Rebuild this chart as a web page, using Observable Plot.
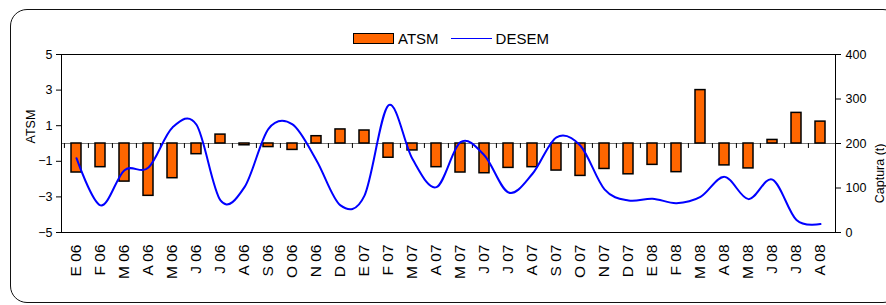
<!DOCTYPE html>
<html>
<head>
<meta charset="utf-8">
<script src="https://cdn.jsdelivr.net/npm/d3@7"></script>
<script src="https://cdn.jsdelivr.net/npm/@observablehq/plot@0.6"></script>
<style>
  html, body { margin: 0; padding: 0; background: #fff; overflow: hidden; }
  #wrap { position: relative; width: 886px; height: 305px; overflow: hidden; font-family: "Liberation Sans", Arial, sans-serif; }
  #border { position: absolute; left: 10px; top: 9px; width: 890px; height: 294px; border: 1.5px solid #111; border-radius: 17px; box-sizing: border-box; }
  #legend { position: absolute; top: 29px; left: 353px; height: 18px; display: flex; align-items: center; font-size: 15px; color: #000; }
  .sw-bar { width: 39px; height: 9px; background: #FF6600; border: 1.5px solid #000; margin-right: 4px; }
  .sw-line { width: 41px; height: 0; border-top: 1.5px solid #0000FF; margin-left: 12px; margin-right: 4px; }
  #chart { position: absolute; left: 0; top: 0; }
</style>
</head>
<body>
<div id="wrap">
  <div id="border"></div>
  <div id="chart"></div>
  <div id="legend"><div class="sw-bar"></div><span>ATSM</span><div class="sw-line"></div><span>DESEM</span></div>
</div>
<script>
const months = ["E 06","F 06","M 06","A 06","M 06","J 06","J 06","A 06","S 06","O 06","N 06","D 06",
                "E 07","F 07","M 07","A 07","M 07","J 07","J 07","A 07","S 07","O 07","N 07","D 07",
                "E 08","F 08","M 08","A 08","M 08","J 08","J 08","A 08"];
const atsm = [-1.63,-1.33,-2.14,-2.94,-1.95,-0.6,0.5,-0.1,-0.2,-0.36,0.41,0.79,
              0.73,-0.8,-0.39,-1.33,-1.63,-1.67,-1.37,-1.33,-1.52,-1.82,-1.43,-1.73,
              -1.2,-1.61,3.0,-1.23,-1.4,0.2,1.72,1.23];
const desem = [167,61,140,146,236,242,72,102,233,243,162,61,
               83,286,165,102,203,173,90,132,214,195,97,72,
               76,66,80,125,75,119,28,19];
const leftTicks = [-5,-3,-1,1,3,5];
const rightTicks = [0,100,200,300,400];

const W = 886, H = 305, ML = 61, MR = 51, MT = 54, MB = 73;
const step = (W - ML - MR) / months.length;
const toLeft = v => v / 40 - 5;   // right axis (0..400) mapped onto left axis (-5..5)

const data = months.map((m, i) => ({i, m, atsm: atsm[i], desem: desem[i]}));
const font = "Liberation Sans, Arial, sans-serif";

const chart = Plot.plot({
  width: W, height: H,
  marginLeft: ML, marginRight: MR, marginTop: MT, marginBottom: MB,
  style: {fontFamily: font, fontSize: "12.5px", color: "#000", background: "transparent"},
  x: {type: "band", domain: data.map(d => d.i), padding: 0},
  y: {domain: [-5, 5]},
  marks: [
    Plot.ruleY([0], {stroke: "#777", strokeWidth: 1}),
    Plot.barY(data, {x: "i", y: "atsm", fill: "#FF6600", stroke: "#000", strokeWidth: 1.5, insetLeft: 7, insetRight: 7}),
    Plot.ruleX(data, {x: "i", y1: 0, y2: -0.28, dx: -step / 2, stroke: "#000"}),
    Plot.line(data, {x: "i", y: d => toLeft(d.desem), stroke: "#0000FF", strokeWidth: 2, curve: "cardinal"}),
    Plot.frame({stroke: "#000", strokeWidth: 1}),
    Plot.axisY(leftTicks, {anchor: "left", tickSize: 5, tickPadding: 4, label: null, fontSize: 12.5}),
    Plot.axisY(rightTicks.map(toLeft), {anchor: "right", tickSize: 5, tickPadding: 5, tickFormat: d => Math.round((d + 5) * 40), label: null, fontSize: 12.5}),
    Plot.axisX({anchor: "bottom", tickSize: 0, tickPadding: 12, tickRotate: -90, tickFormat: i => months[i], label: null, fontSize: 15.5}),
    Plot.text(["ATSM"], {frameAnchor: "left", dx: -31, rotate: -90, fontSize: 12.5}),
    Plot.text(["Captura (t)"], {frameAnchor: "right", dx: 44, rotate: -90, fontSize: 12.5})
  ]
});
document.getElementById("chart").appendChild(chart);
</script>
</body>
</html>
